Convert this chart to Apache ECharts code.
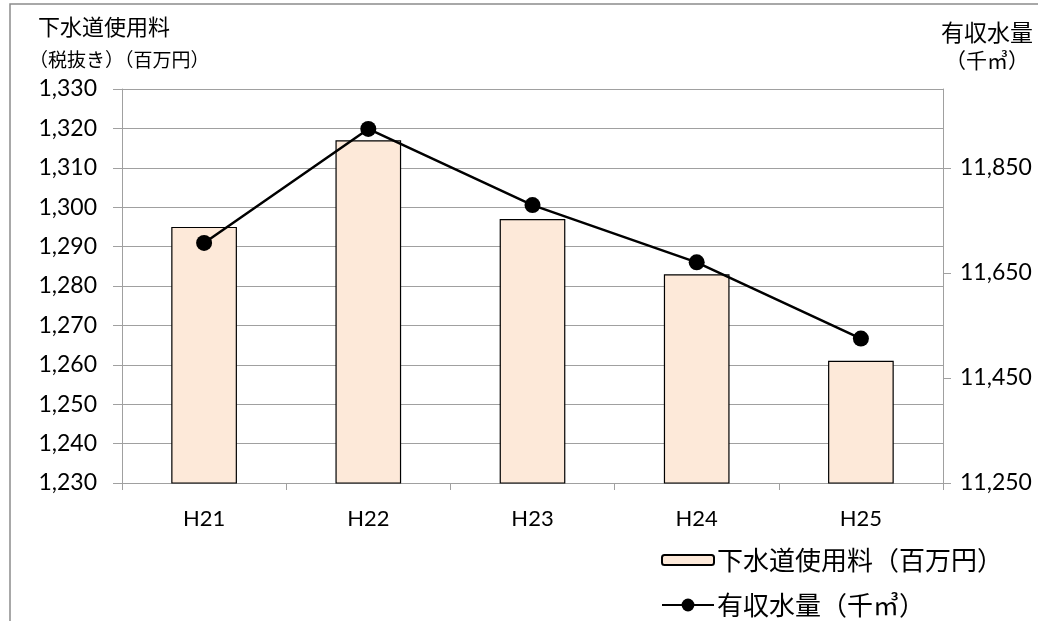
<!DOCTYPE html>
<html>
<head>
<meta charset="utf-8">
<script src="https://cdn.jsdelivr.net/npm/echarts@6/dist/echarts.min.js"></script>
<style>
html,body{margin:0;padding:0;background:#fff;}
#chart{width:1038px;height:621px;}
</style>
</head>
<body>
<div id="chart"></div>
<script>
const categories = ['H21', 'H22', 'H23', 'H24', 'H25'];
const sewerFees = [1295, 1317, 1297, 1283, 1261];
const waterVolume = [11707, 11924, 11779, 11670, 11525];
const leftAxisRange = [1230, 1330];
const leftInterval = 10;
const rightAxisRange = [11250, 12000];
const rightInterval = 200;
const rightTickLabels = [11250, 11450, 11650, 11850];
const barName = '下水道使用料（百万円）';
const lineName = '有収水量（千㎥）';

const FONT = "Lato, 'Noto Sans CJK JP', sans-serif";
const CJK = "'Noto Sans CJK JP', sans-serif";
const GRID_GREY = '#a0a0a0';
const fmt = v => Number(v).toLocaleString('en-US');

const chart = echarts.init(document.getElementById('chart'), null, {renderer: 'canvas'});
chart.setOption({
  animation: false,
  backgroundColor: '#fff',
  graphic: [{
    type: 'rect', silent: true,
    shape: {x: 10, y: 4, width: 1200, height: 800},
    style: {fill: 'none', stroke: '#8c8c8c', lineWidth: 1.5}, z: -10
  }],
  title: [
    {text: '下水道使用料', left: 33, top: 11, textStyle: {fontFamily: CJK, fontSize: 22, fontWeight: 'normal', color: '#000'}},
    {text: '（税抜き）（百万円）', left: 24, top: 45, textStyle: {fontFamily: CJK, fontSize: 19, fontWeight: 'normal', color: '#000'}},
    {text: '有収水量', left: 936, top: 16, textStyle: {fontFamily: CJK, fontSize: 23, fontWeight: 'normal', color: '#000'}},
    {text: '（千㎥）', left: 940, top: 45, textStyle: {fontFamily: CJK, fontSize: 21, fontWeight: 'normal', color: '#000'}}
  ],
  legend: [
    {
      data: [barName], orient: 'vertical', left: 656, top: 542,
      itemWidth: 52, itemHeight: 10, itemGap: 20,
      textStyle: {fontFamily: CJK, fontSize: 26, color: '#000', padding: [0, 0, 0, -2]}
    },
    {
      data: [lineName], orient: 'vertical', left: 656, top: 587,
      itemWidth: 52, itemHeight: 16,
      textStyle: {fontFamily: CJK, fontSize: 26, color: '#000', padding: [0, 0, 0, -2]}
    }
  ],
  grid: {left: 122, right: 95, top: 89, bottom: 138, containLabel: false},
  xAxis: {
    type: 'category', data: categories, boundaryGap: true,
    axisLine: {lineStyle: {color: GRID_GREY, width: 1}},
    axisTick: {show: true, alignWithLabel: false, length: 7, lineStyle: {color: GRID_GREY}},
    axisLabel: {fontFamily: FONT, fontSize: 22, color: '#000', margin: 25}
  },
  yAxis: [
    {
      type: 'value', min: leftAxisRange[0], max: leftAxisRange[1], interval: leftInterval,
      axisLine: {show: true, lineStyle: {color: GRID_GREY, width: 1}},
      axisTick: {show: true, length: 9, lineStyle: {color: GRID_GREY}},
      splitLine: {show: true, lineStyle: {color: GRID_GREY, width: 1.2}},
      axisLabel: {fontFamily: FONT, fontSize: 23, color: '#000', margin: 25, formatter: fmt}
    },
    {
      type: 'value', min: rightAxisRange[0], max: rightAxisRange[1], interval: rightInterval,
      position: 'right',
      axisLine: {show: true, lineStyle: {color: GRID_GREY, width: 1}},
      axisTick: {show: true, length: 8, lineStyle: {color: GRID_GREY}, customValues: rightTickLabels},
      splitLine: {show: false},
      axisLabel: {fontFamily: FONT, fontSize: 23, color: '#000', margin: 17, formatter: fmt, customValues: rightTickLabels}
    }
  ],
  series: [
    {
      name: barName, type: 'bar', data: sewerFees, yAxisIndex: 0,
      barWidth: '40%',
      itemStyle: {color: '#fde9d9', borderColor: '#000', borderWidth: 1.2},
      z: 2
    },
    {
      name: lineName, type: 'line', data: waterVolume, yAxisIndex: 1,
      symbol: 'circle', symbolSize: 16, showSymbol: true,
      itemStyle: {color: '#000'},
      lineStyle: {color: '#000', width: 2.5},
      z: 5
    }
  ]
});
</script>
</body>
</html>
